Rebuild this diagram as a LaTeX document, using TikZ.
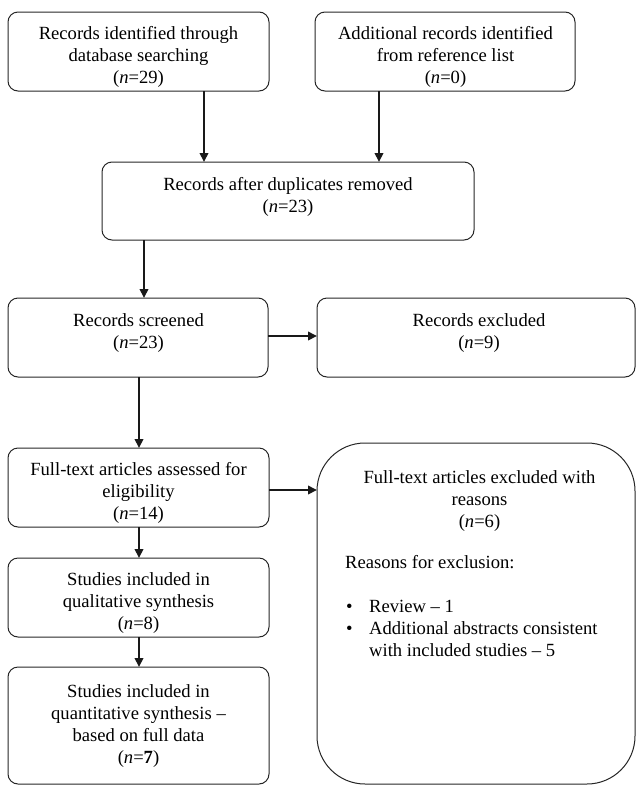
\documentclass[tikz,border=0pt]{standalone}
\usepackage{fontspec}
\setmainfont{Liberation Serif}
\usetikzlibrary{arrows.meta}
\begin{document}
\begin{tikzpicture}[x=1pt,y=-1pt,
  box/.style={draw=black!85, line width=1pt, rounded corners=10pt, inner sep=0pt, outer sep=0pt},
  txt/.style={font=\fontsize{18.6}{22}\selectfont, align=center, inner sep=0pt, anchor=north},
  ltxt/.style={font=\fontsize{18.6}{22}\selectfont, align=left, inner sep=0pt, anchor=north west},
  btxt/.style={font=\fontsize{18.6}{22}\selectfont, inner sep=0pt, anchor=base west},
  arr/.style={draw=black!90, line width=2pt, -{Triangle[length=9pt,width=8.5pt]}}]
\useasboundingbox (0,0) rectangle (636,785);
% boxes
\node[box, minimum width=261pt, minimum height=79pt] (b1) at (138.5,51.5) {};
\node[box, minimum width=260pt, minimum height=79pt] (b2) at (445,51.5) {};
\node[box, minimum width=372pt, minimum height=78pt] (b3) at (288,201) {};
\node[box, minimum width=260pt, minimum height=79pt] (b4) at (138,337.5) {};
\node[box, minimum width=318pt, minimum height=79pt] (b5) at (476,337.5) {};
\node[box, minimum width=261pt, minimum height=79pt] (b6) at (138.5,487.5) {};
\node[box, minimum width=261pt, minimum height=79pt] (b7) at (138.5,597.5) {};
\node[box, minimum width=261pt, minimum height=117pt] (b8) at (138.5,725.5) {};
\node[box, rounded corners=48pt, minimum width=318pt, minimum height=341pt] (big) at (476,613.5) {};
% texts
\node[txt] (t1) at (138.5,26) {Records identified through\\database searching\\(\textit{n}=29)};
\node[txt] (t2) at (445.5,26) {Additional records identified\\from reference list\\(\textit{n}=0)};
\node[txt] (t3) at (288,177.3) {Records after duplicates removed\\(\textit{n}=23)};
\node[txt] (t4) at (138.5,313.3) {Records screened\\(\textit{n}=23)};
\node[txt] (t5) at (479,313.3) {Records excluded\\(\textit{n}=9)};
\node[txt] (t6) at (138.5,462.3) {Full-text articles assessed for\\eligibility\\(\textit{n}=14)};
\node[txt] (t7) at (138.5,572.3) {Studies included in\\qualitative synthesis\\(\textit{n}=8)};
\node[txt] (t8) at (138.5,684.3) {Studies included in\\quantitative synthesis --\\based on full data\\(\textit{n}=\textbf{7})};
\node[txt] (t9) at (479.5,470.3) {Full-text articles excluded with\\reasons\\(\textit{n}=6)};
\node[btxt] (t10) at (345,568) {Reasons for exclusion:};
\node[btxt] (bu1) at (346,612) {\textbullet};
\node[btxt] (t11) at (369,612) {Review -- 1};
\node[btxt] (bu2) at (346,634) {\textbullet};
\node[ltxt] (t12) at (369,621.3) {Additional abstracts consistent\\with included studies -- 5};
% connectors
\coordinate (a1) at ([xshift=65.5pt]b1.south);
\coordinate (a2) at ([xshift=-66pt]b2.south);
\coordinate (a3) at ([xshift=-144pt]b3.south);
\coordinate (a4) at ([yshift=1.5pt]b4.east);
\coordinate (a5) at ([xshift=1pt]b4.south);
\coordinate (a6) at ([yshift=-2.5pt]b6.east);
\coordinate (a7) at ([xshift=0.5pt]b6.south);
\coordinate (a8) at ([xshift=0.5pt]b7.south);
\draw[arr] (a1) -- (a1 |- b3.north);
\draw[arr] (a2) -- (a2 |- b3.north);
\draw[arr] (a3) -- (a3 |- b4.north);
\draw[arr] (a4) -- (a4 -| b5.west);
\draw[arr] (a5) -- (a5 |- b6.north);
\draw[arr] (a6) -- (a6 -| big.west);
\draw[arr] (a7) -- (a7 |- b7.north);
\draw[arr] (a8) -- (a8 |- b8.north);
\end{tikzpicture}
\end{document}
